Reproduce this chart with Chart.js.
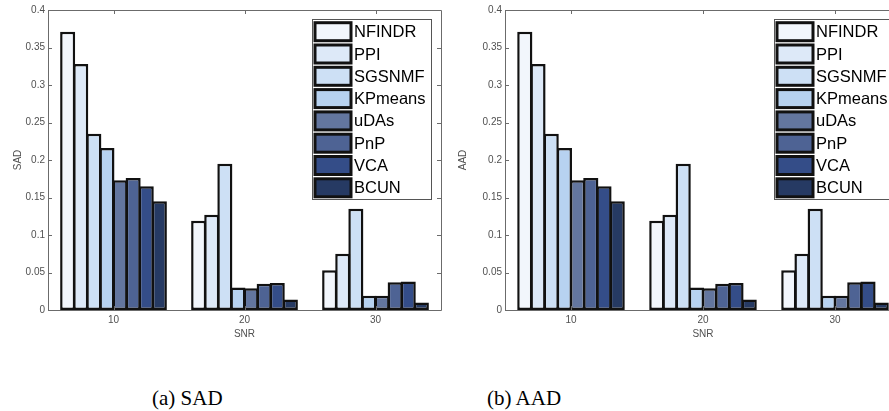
<!DOCTYPE html>
<html>
<head>
<meta charset="utf-8">
<script src="https://cdn.jsdelivr.net/npm/chart.js@4/dist/chart.umd.min.js"></script>
<style>
  html, body { margin:0; padding:0; background:#fff; }
  body { width:889px; height:411px; overflow:hidden; position:relative; }
  .panel { position:absolute; top:0; overflow:hidden; height:345px; }
  #panelA { left:0; width:445px; }
  #panelB { left:445px; width:444px; }
  .caption { position:absolute; top:386px; font-family:'Liberation Serif','Times New Roman',serif; font-size:21px; color:#000; white-space:nowrap; }
</style>
</head>
<body>
<div class="panel" id="panelA"><canvas id="sadChart" width="445" height="345"></canvas></div>
<div class="panel" id="panelB"><canvas id="aadChart" width="460" height="345"></canvas></div>
<div class="caption" style="left:152px">(a) SAD</div>
<div class="caption" style="left:487px">(b) AAD</div>
<script>
const snrLevels = ['10', '20', '30'];
const methods   = ['NFINDR', 'PPI', 'SGSNMF', 'KPmeans', 'uDAs', 'PnP', 'VCA', 'BCUN'];
const methodColors = ['#f2f6fc', '#dde9f8', '#cde0f5', '#b7d2f0', '#63769f', '#4e6394', '#344d88', '#263a63'];
const yTicks = [0, 0.05, 0.1, 0.15, 0.2, 0.25, 0.3, 0.35, 0.4];

// one row per method, columns follow snrLevels
const sadValues = [
  [0.371, 0.119, 0.053],
  [0.328, 0.127, 0.075],
  [0.235, 0.195, 0.135],
  [0.216, 0.030, 0.019],
  [0.173, 0.029, 0.019],
  [0.176, 0.035, 0.037],
  [0.165, 0.036, 0.038],
  [0.145, 0.014, 0.010]
];
const aadValues = [
  [0.371, 0.119, 0.053],
  [0.328, 0.127, 0.075],
  [0.235, 0.195, 0.135],
  [0.216, 0.030, 0.019],
  [0.173, 0.029, 0.019],
  [0.176, 0.035, 0.037],
  [0.165, 0.036, 0.038],
  [0.145, 0.014, 0.010]
];

const SANS = "'Liberation Sans', Arial, Helvetica, sans-serif";
const AXIS_GREY = '#6b6b6b';
const TEXT_GREY = '#505050';

/* box around the axes with inward ticks on all four sides */
const framePlugin = {
  id: 'frame',
  afterDatasetsDraw(chart) {
    const {ctx, chartArea:a, scales:{x, y}} = chart;
    const tl = 4;
    ctx.save();
    ctx.strokeStyle = AXIS_GREY;
    ctx.lineWidth = 1;
    ctx.beginPath();
    ctx.rect(a.left + 0.5, a.top + 0.5, a.right - a.left, a.bottom - a.top);
    yTicks.forEach(v => {
      const py = Math.round(y.getPixelForValue(v)) + 0.5;
      ctx.moveTo(a.left, py);  ctx.lineTo(a.left + tl, py);
      ctx.moveTo(a.right, py); ctx.lineTo(a.right - tl, py);
    });
    snrLevels.forEach((s, i) => {
      const px = Math.round(x.getPixelForValue(i)) + 0.5;
      ctx.moveTo(px, a.top);    ctx.lineTo(px, a.top + tl);
      ctx.moveTo(px, a.bottom); ctx.lineTo(px, a.bottom - tl);
    });
    ctx.stroke();
    ctx.restore();
  }
};

/* legend box inside the upper right corner of the axes */
const boxLegend = {
  id: 'boxLegend',
  afterDraw(chart) {
    const {ctx, chartArea:a} = chart;
    const bx = a.right - chart.options.legendInset, by = 19, bw = 119, bh = 180;
    const rowH = 22.3, first = 12.7;
    ctx.save();
    ctx.fillStyle = '#fff';
    ctx.fillRect(bx, by, bw, bh);
    ctx.strokeStyle = '#555';
    ctx.lineWidth = 1;
    ctx.strokeRect(bx + 0.5, by + 0.5, bw, bh);
    ctx.font = '16.5px ' + SANS;
    ctx.textBaseline = 'middle';
    chart.data.datasets.forEach((ds, i) => {
      const cy = by + first + i * rowH;
      ctx.fillStyle = ds.backgroundColor;
      ctx.fillRect(bx + 3, cy - 9, 36, 18);
      ctx.strokeStyle = '#111';
      ctx.lineWidth = 3;
      ctx.strokeRect(bx + 3, cy - 9, 36, 18);
      ctx.fillStyle = '#000';
      ctx.fillText(ds.label, bx + 42, cy + 1);
    });
    ctx.restore();
  }
};

function makeChart(id, values, yLabel, axisWidth, legendInset) {
  const datasets = methods.map((m, i) => ({
    label: m,
    data: values[i],
    backgroundColor: methodColors[i],
    borderColor: '#111',
    borderWidth: 2.5,
    borderSkipped: false,
    barPercentage: 1.15,
    categoryPercentage: 0.80
  }));
  return new Chart(document.getElementById(id), {
    type: 'bar',
    data: { labels: snrLevels, datasets },
    options: {
      responsive: false,
      animation: false,
      devicePixelRatio: 1,
      legendInset,
      layout: { padding: { left: 0, top: 10, right: 4, bottom: 0 } },
      plugins: { legend: { display: false }, tooltip: { enabled: false } },
      scales: {
        x: {
          grid: { display: false, drawTicks: false },
          border: { display: false },
          ticks: { color: TEXT_GREY, font: { family: SANS, size: 10 }, padding: 4, maxRotation: 0 },
          title: { display: true, text: 'SNR', color: TEXT_GREY, font: { family: SANS, size: 10 }, padding: { top: 0, bottom: 5 } },
          afterFit(s) { s.height = 35; }
        },
        y: {
          min: 0, max: 0.4,
          afterBuildTicks(s) { s.ticks = yTicks.map(v => ({ value: v })); },
          grid: { display: false, drawTicks: false },
          border: { display: false },
          ticks: { color: TEXT_GREY, font: { family: SANS, size: 10 }, padding: 3, callback: v => String(v) },
          title: { display: true, text: yLabel, color: TEXT_GREY, font: { family: SANS, size: 10 }, padding: { top: 12, bottom: 0 } },
          afterFit(s) { s.width = axisWidth; }
        }
      }
    },
    plugins: [framePlugin, boxLegend]
  });
}

makeChart('sadChart', sadValues, 'SAD', 48, 129);
makeChart('aadChart', aadValues, 'AAD', 60, 127);
</script>
</body>
</html>
